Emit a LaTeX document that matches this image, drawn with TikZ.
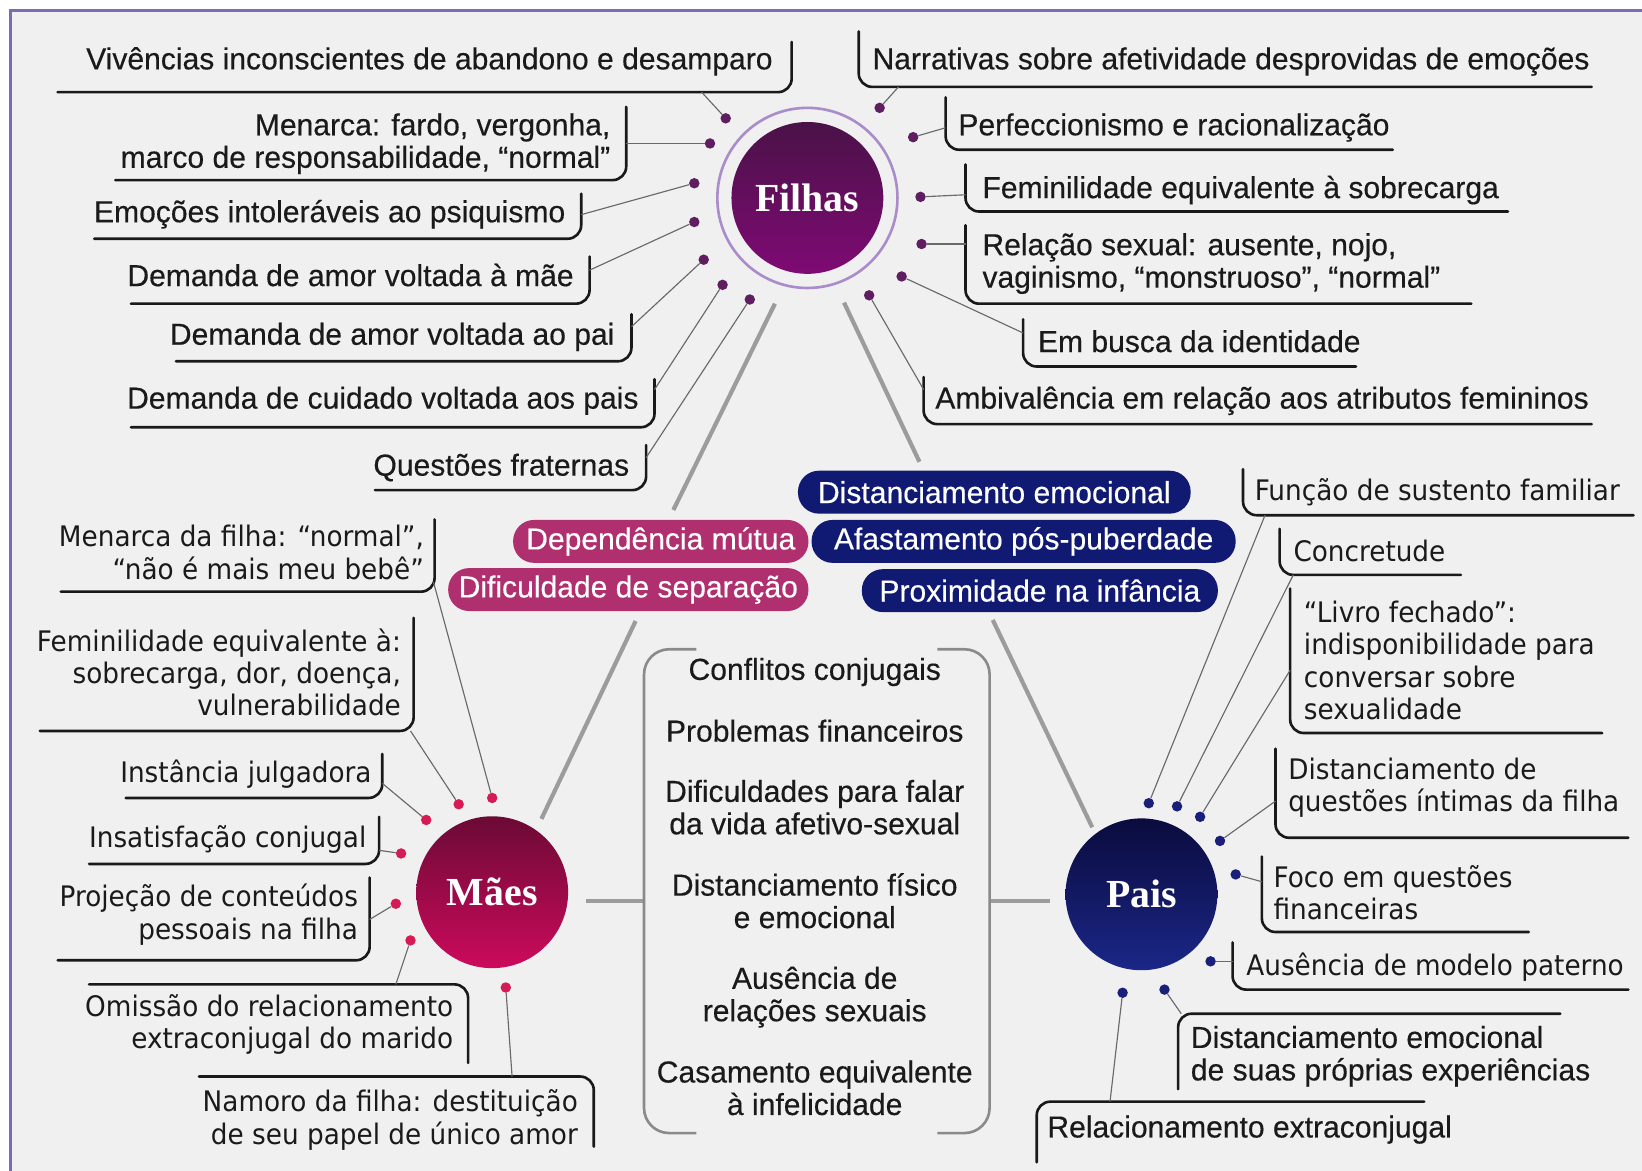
\documentclass[tikz,border=0pt]{standalone}
\usepackage{fontspec}
\newfontfamily\cf{Liberation Sans}[FakeStretch=0.99,FakeBold=0.35]
\newfontfamily\wf{DejaVu Sans}[FakeStretch=0.93]
\newfontfamily\cirf{Liberation Serif}
\usetikzlibrary{calc}
\definecolor{bg}{HTML}{F0F0F0}
\definecolor{frame}{HTML}{7E6BB5}
\definecolor{txt}{HTML}{1A1A1A}
\definecolor{cgray}{HTML}{6A6A6A}
\definecolor{trig}{HTML}{9C9C9C}
\definecolor{boxg}{HTML}{8A8A8A}
\definecolor{dotF}{HTML}{5E1E60}
\definecolor{dotM}{HTML}{D51A55}
\definecolor{dotP}{HTML}{1A1F7A}
\definecolor{navy}{HTML}{111A72}
\definecolor{mag}{HTML}{B02F6E}
\definecolor{ringc}{HTML}{A98CC9}
\definecolor{fTop}{HTML}{4A1248}
\definecolor{fBot}{HTML}{7F0A74}
\definecolor{mTop}{HTML}{6B0A35}
\definecolor{mBot}{HTML}{CC0A5C}
\definecolor{pTop}{HTML}{0A0B3D}
\definecolor{pBot}{HTML}{1B2788}
\tikzset{
  lc/.style={inner sep=0pt, yshift=-3pt, text=txt, font=\cf\fontsize{29}{31}\selectfont},
  lw/.style={inner sep=0pt, yshift=-3pt, text=txt, font=\wf\fontsize{27}{31}\selectfont},
  brk/.style={line width=2.5pt, rounded corners=13pt, draw=black!90, line cap=round},
  conn/.style={line width=1.1pt, draw=cgray},
  fd/.style={circle, fill=dotF, inner sep=0pt, minimum size=10pt},
  md/.style={circle, fill=dotM, inner sep=0pt, minimum size=10pt},
  pd/.style={circle, fill=dotP, inner sep=0pt, minimum size=10pt},
  tri/.style={line width=4pt, draw=trig},
  pill/.style={rounded corners=20pt, text=white, font=\cf\fontsize{29}{31}\selectfont, minimum height=41pt, inner sep=0pt},
  hub/.style={circle, minimum size=145pt, inner sep=0pt, text=white, font=\cirf\bfseries\fontsize{38}{40}\selectfont},
  boxline/.style={line width=2.5pt, draw=boxg, rounded corners=24pt},
}
\begin{document}
\begin{tikzpicture}[x=1pt,y=-1pt]
\useasboundingbox (0,0) rectangle (1568,1118);
\fill[white] (0,0) rectangle (1568,1118);
\fill[bg] (10,10) rectangle (1568,1118);
\draw[frame, line width=3pt] (10,1118) -- (10,10) -- (1568,10);

% hubs
\draw[ringc, line width=2.5pt] (771,189) circle[radius=86];
\node[hub, top color=fTop, bottom color=fBot] (Filhas) at (771,189) {Filhas};
\node[hub, top color=mTop, bottom color=mBot] (Maes) at (470,852) {Mães};
\node[hub, top color=pTop, bottom color=pBot] (Pais) at (1090,854) {Pais};

% triangle connectors
\coordinate (fa1) at (740,290); \coordinate (fa2) at (643,487);
\coordinate (fa3) at (607,593); \coordinate (fa4) at (517,782);
\coordinate (fb1) at (806,289); \coordinate (fb2) at (878,441);
\coordinate (fb3) at (948,592); \coordinate (fb4) at (1043,790);
\coordinate (ma1) at (560,860); \coordinate (pa1) at (1003,860);
\draw[tri] (fa1) -- (fa2);
\draw[tri] (fa3) -- (fa4);
\draw[tri] (fb1) -- (fb2);
\draw[tri] (fb3) -- (fb4);

% central bracket box
\coordinate (bxl) at (615,860); \coordinate (bxr) at (945,860);
\draw[tri] (ma1) -- (bxl);
\draw[tri] (bxr) -- (pa1);
\draw[boxline] (665,620) -- (615,620) -- (615,1082) -- (665,1082);
\draw[boxline] (895,620) -- (945,620) -- (945,1082) -- (895,1082);
\node[lc, align=center] (c1) at (778,640) {\strut Conflitos conjugais};
\node[lc, align=center] (c2) at (778,699) {\strut Problemas financeiros};
\node[lc, align=center] (c3) at (778,772) {\strut Dificuldades para falar\\\strut da vida afetivo-sexual};
\node[lc, align=center] (c4) at (778,861.5) {\strut Distanciamento físico\\\strut e emocional};
\node[lc, align=center] (c5) at (778,950.5) {\strut Ausência de\\\strut relações sexuais};
\node[lc, align=center] (c6) at (778,1040) {\strut Casamento equivalente\\\strut à infelicidade};

% pills
\node[pill, fill=navy, minimum width=375pt] (p1) at (949.5,470) {Distanciamento emocional};
\node[pill, fill=navy, minimum width=405pt] (p2) at (977.5,517) {Afastamento pós-puberdade};
\node[pill, fill=navy, minimum width=340pt] (p3) at (993,564) {Proximidade na infância};
\node[pill, fill=mag, minimum width=282pt] (p4) at (631,517) {Dependência mútua};
\node[pill, fill=mag, minimum width=344pt] (p5) at (600,563) {Dificuldade de separação};

% ---------- Filhas, left ----------
\node[lc, anchor=east, align=right] (F1) at (738,57) {\strut Vivências inconscientes de abandono e desamparo};
\draw[brk] (55,88) -- (756,88) -- (756,40);
\node[lc, anchor=east, align=right] (F2) at (583,135.5) {\strut Menarca: fardo, vergonha,\\\strut marco de responsabilidade, “normal”};
\draw[brk] (110,172) -- (598,172) -- (598,102);
\node[lc, anchor=east, align=right] (F3) at (540,203) {\strut Emoções intoleráveis ao psiquismo};
\draw[brk] (90,228) -- (555,228) -- (555,185);
\node[lc, anchor=east, align=right] (F4) at (548,264) {\strut Demanda de amor voltada à mãe};
\draw[brk] (125,290) -- (563,290) -- (563,245);
\node[lc, anchor=east, align=right] (F5) at (587,320) {\strut Demanda de amor voltada ao pai};
\draw[brk] (168,345) -- (603,345) -- (603,300);
\node[lc, anchor=east, align=right] (F6) at (610,381) {\strut Demanda de cuidado voltada aos pais};
\draw[brk] (125,408) -- (625,408) -- (625,362);
\node[lc, anchor=east, align=right] (F7) at (601,445) {\strut Questões fraternas};
\draw[brk] (358,468) -- (617,468) -- (617,425);

\node[fd] (d1) at (693,113) {}; \coordinate (e1) at (670,88);
\node[fd] (d2) at (678,137) {}; \coordinate (e2) at (598,137);
\node[fd] (d3) at (663,175) {}; \coordinate (e3) at (555,205);
\node[fd] (d4) at (663,212) {}; \coordinate (e4) at (563,258);
\node[fd] (d5) at (672,248) {}; \coordinate (e5) at (603,312);
\node[fd] (d6) at (690,272) {}; \coordinate (e6) at (625,372);
\node[fd] (d7) at (716,286) {}; \coordinate (e7) at (617,437);
\foreach \i in {1,...,7} \draw[conn] (d\i) -- (e\i);

% ---------- Filhas, right ----------
\node[lc, anchor=west, align=left] (F8) at (833,57) {\strut Narrativas sobre afetividade desprovidas de emoções};
\draw[brk] (820,30) -- (820,83) -- (1520,83);
\node[lc, anchor=west, align=left] (F9) at (915,120) {\strut Perfeccionismo e racionalização};
\draw[brk] (903,93) -- (903,143) -- (1330,143);
\node[lc, anchor=west, align=left] (F10) at (938,180) {\strut Feminilidade equivalente à sobrecarga};
\draw[brk] (922,157) -- (922,202) -- (1440,202);
\node[lc, anchor=west, align=left] (F11) at (938,250) {\strut Relação sexual: ausente, nojo,\\\strut vaginismo, “monstruoso”, “normal”};
\draw[brk] (922,215) -- (922,290) -- (1405,290);
\node[lc, anchor=west, align=left] (F12) at (991,327) {\strut Em busca da identidade};
\draw[brk] (977,305) -- (977,350) -- (1295,350);
\node[lc, anchor=west, align=left] (F13) at (893,381) {\strut Ambivalência em relação aos atributos femininos};
\draw[brk] (882,360) -- (882,405) -- (1520,405);

\node[fd] (d8) at (840,103) {};  \coordinate (e8) at (858,83);
\node[fd] (d9) at (872,131) {};  \coordinate (e9) at (903,122);
\node[fd] (d10) at (879,188) {}; \coordinate (e10) at (922,186);
\node[fd] (d11) at (880,233) {}; \coordinate (e11) at (922,233);
\node[fd] (d12) at (861,264) {}; \coordinate (e12) at (977,318);
\node[fd] (d13) at (830,282) {}; \coordinate (e13) at (882,372);
\foreach \i in {8,...,13} \draw[conn] (d\i) -- (e\i);

% ---------- Pais ----------
\node[lw, anchor=west, align=left] (P14) at (1198,469) {\strut Função de sustento familiar};
\draw[brk] (1187,448) -- (1187,492) -- (1560,492);
\node[lw, anchor=west, align=left] (P15) at (1235,527) {\strut Concretude};
\draw[brk] (1222,505) -- (1222,549) -- (1395,549);
\node[lw, anchor=west, align=left] (P16) at (1245,631.5) {\strut “Livro fechado”:\\\strut indisponibilidade para\\\strut conversar sobre\\\strut sexualidade};
\draw[brk] (1232,562) -- (1232,700) -- (1530,700);
\node[lw, anchor=west, align=left] (P17) at (1230,750.5) {\strut Distanciamento de\\\strut questões íntimas da filha};
\draw[brk] (1218,715) -- (1218,800) -- (1555,800);
\node[lw, anchor=west, align=left] (P18) at (1216,853.5) {\strut Foco em questões\\\strut financeiras};
\draw[brk] (1205,818) -- (1205,890) -- (1460,890);
\node[lw, anchor=west, align=left] (P19) at (1190,922) {\strut Ausência de modelo paterno};
\draw[brk] (1177,900) -- (1177,945) -- (1555,945);
\node[lc, anchor=west, align=left] (P20) at (1137,1007) {\strut Distanciamento emocional\\\strut de suas próprias experiências};
\draw[brk] (1490,968) -- (1125,968) -- (1125,1040);
\node[lc, anchor=west, align=left] (P21) at (1000,1077) {\strut Relacionamento extraconjugal};
\draw[brk] (1360,1052) -- (990,1052) -- (990,1110);

\node[pd] (d14) at (1097,767) {}; \coordinate (e14) at (1208,492);
\node[pd] (d15) at (1124,770) {}; \coordinate (e15) at (1235,549);
\node[pd] (d16) at (1146,780) {}; \coordinate (e16) at (1232,640);
\node[pd] (d17) at (1165,803) {}; \coordinate (e17) at (1218,765);
\node[pd] (d18) at (1180,835) {}; \coordinate (e18) at (1205,842);
\node[pd] (d19) at (1156,918) {}; \coordinate (e19) at (1177,918);
\node[pd] (d20) at (1112,945) {}; \coordinate (e20) at (1128,968);
\node[pd] (d21) at (1072,948) {}; \coordinate (e21) at (1060,1052);
\foreach \i in {14,...,21} \draw[conn] (d\i) -- (e\i);

% ---------- Maes ----------
\node[lw, anchor=east, align=right] (M22) at (405,528.5) {\strut Menarca da filha: “normal”,\\\strut “não é mais meu bebê”};
\draw[brk] (58,565) -- (415,565) -- (415,496);
\node[lw, anchor=east, align=right] (M23) at (383,643.5) {\strut Feminilidade equivalente à:\\\strut sobrecarga, dor, doença,\\\strut vulnerabilidade};
\draw[brk] (38,698) -- (395,698) -- (395,590);
\node[lw, anchor=east, align=right] (M24) at (355,738) {\strut Instância julgadora};
\draw[brk] (120,762) -- (365,762) -- (365,720);
\node[lw, anchor=east, align=right] (M25) at (350,800) {\strut Insatisfação conjugal};
\draw[brk] (85,825) -- (362,825) -- (362,780);
\node[lw, anchor=east, align=right] (M26) at (342,872) {\strut Projeção de conteúdos\\\strut pessoais na filha};
\draw[brk] (55,917) -- (353,917) -- (353,838);
\node[lw, anchor=east, align=right] (M27) at (433,977) {\strut Omissão do relacionamento\\\strut extraconjugal do marido};
\draw[brk] (85,940) -- (447,940) -- (447,1015);
\node[lw, anchor=east, align=right] (M28) at (552,1068) {\strut Namoro da filha: destituição\\\strut de seu papel de único amor};
\draw[brk] (190,1028) -- (567,1028) -- (567,1095);

\node[md] (d22) at (470,762) {}; \coordinate (e22) at (414,556);
\node[md] (d23) at (438,768) {}; \coordinate (e23) at (392,698);
\node[md] (d24) at (407,783) {}; \coordinate (e24) at (365,748);
\node[md] (d25) at (383,815) {}; \coordinate (e25) at (362,812);
\node[md] (d26) at (378,863) {}; \coordinate (e26) at (353,878);
\node[md] (d27) at (392,898) {}; \coordinate (e27) at (378,940);
\node[md] (d28) at (483,943) {}; \coordinate (e28) at (489,1028);
\foreach \i in {22,...,28} \draw[conn] (d\i) -- (e\i);
\end{tikzpicture}
\end{document}
